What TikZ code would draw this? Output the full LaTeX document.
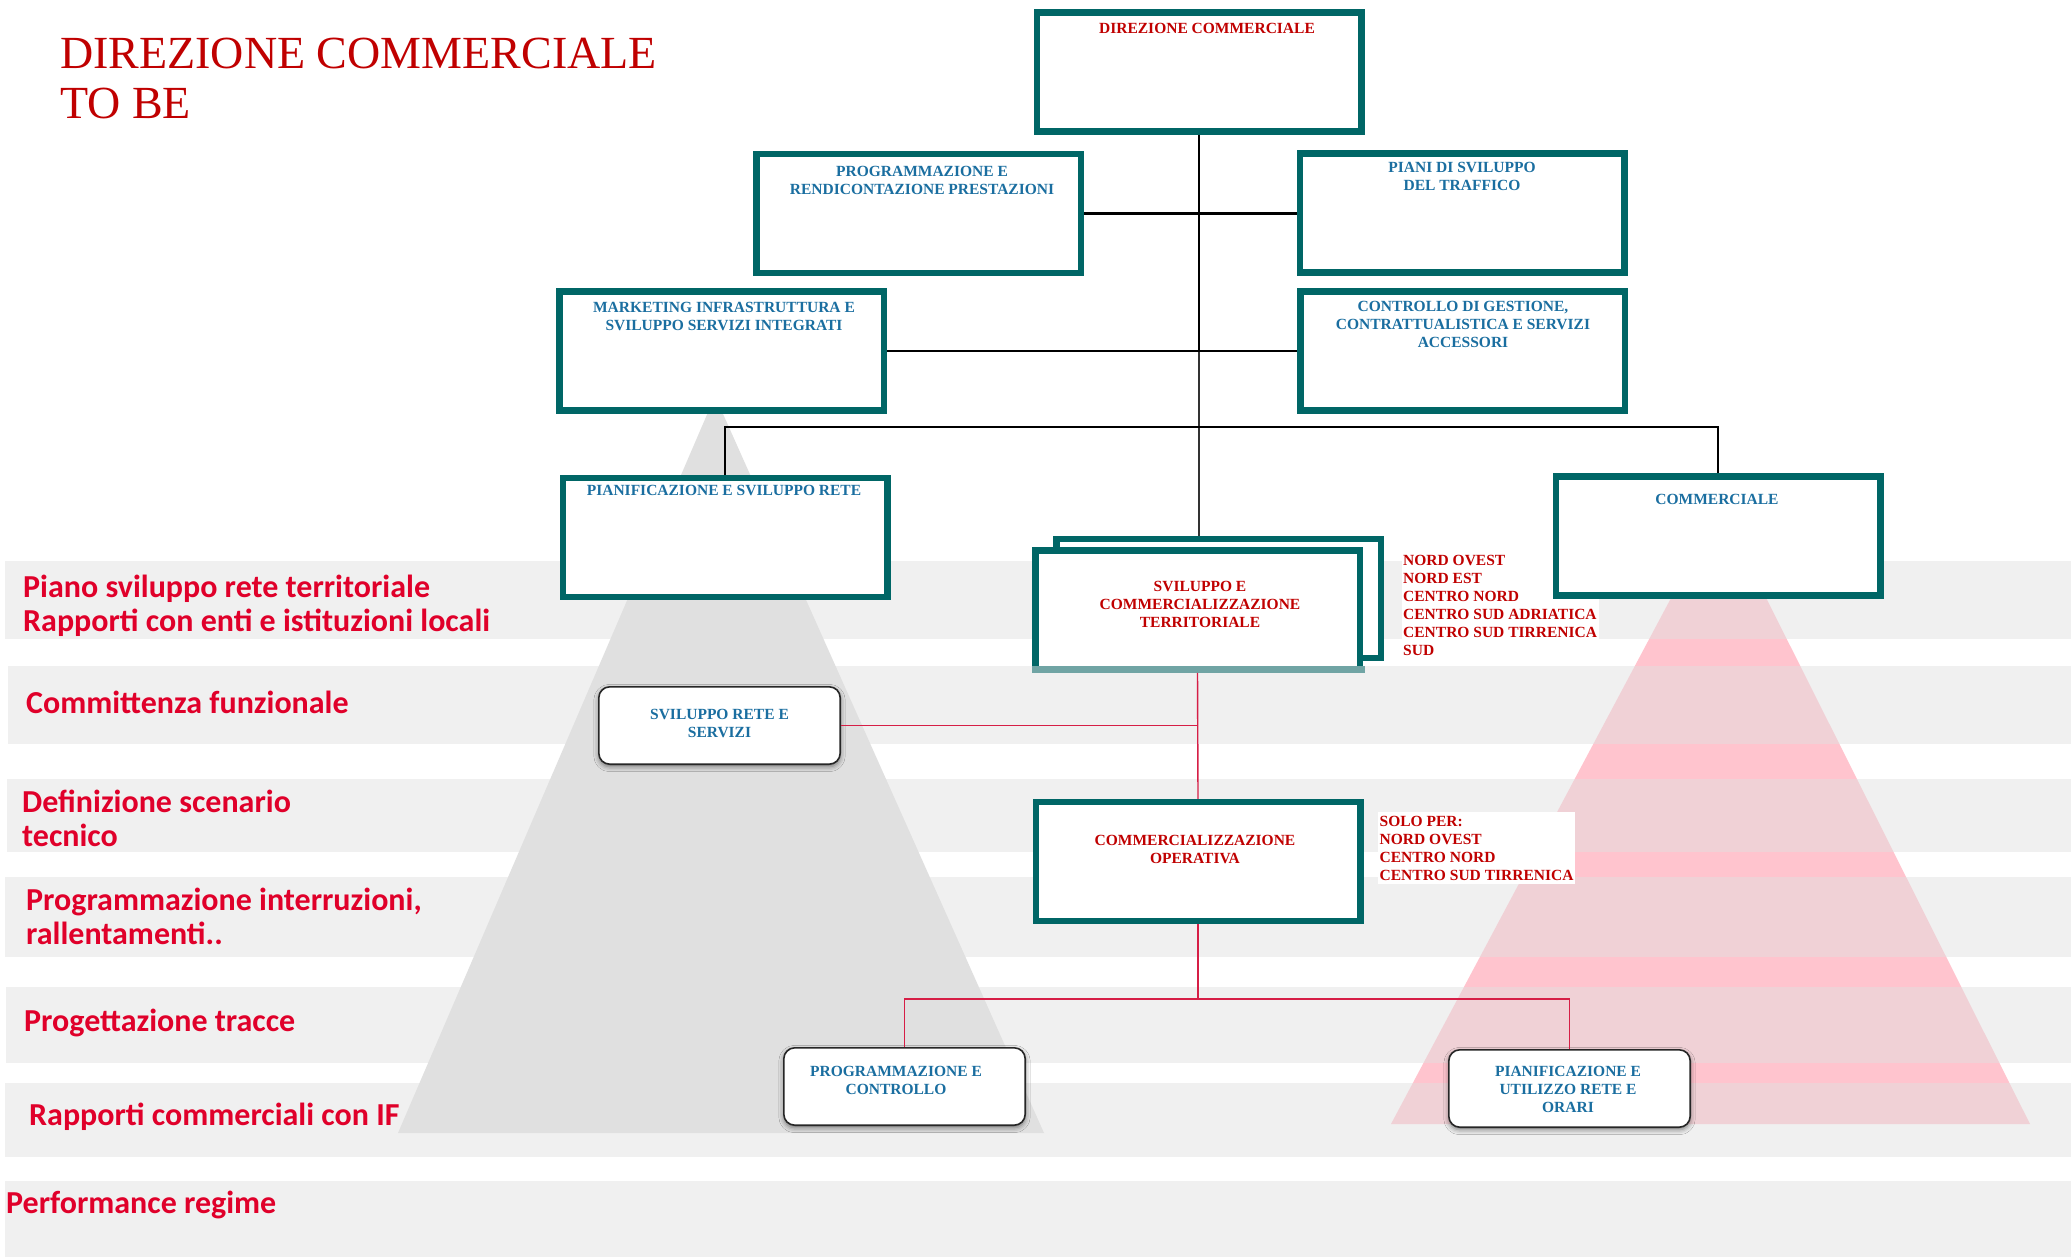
\documentclass[tikz,border=0pt]{standalone}
\usepackage{fontspec}
\setmainfont{Liberation Serif}
\newfontfamily\labelfont{Carlito}
\usetikzlibrary{shadows.blur}
\definecolor{tealbox}{RGB}{0,102,102}
\definecolor{teallight}{RGB}{112,164,164}
\definecolor{boxred}{RGB}{192,0,0}
\definecolor{boxblue}{RGB}{26,110,160}
\definecolor{labelred}{RGB}{224,0,42}
\definecolor{linkred}{RGB}{214,30,70}
\definecolor{bandgrey}{RGB}{224,224,224}
\definecolor{pyrpink}{RGB}{255,196,206}
\begin{document}
\begin{tikzpicture}[x=1pt,y=1pt,
  unitbox/.style={draw=tealbox,line width=6.5pt,fill=white,minimum width=324.5pt,minimum height=119pt},
  softbox/.style={draw=black!85,line width=1.6pt,rounded corners=11pt,fill=white,minimum width=241.4pt,minimum height=77.4pt,
    blur shadow={shadow blur radius=5pt,shadow xshift=0pt,shadow yshift=-2.5pt,shadow opacity=50}},
  boxtext/.style={font=\bfseries\fontsize{15.5}{18}\selectfont,align=center},
  regtext/.style={boxtext,align=left,text=boxred,fill=white,inner xsep=1.5pt,inner ysep=4pt,anchor=west},
  sidelabel/.style={font=\labelfont\bfseries\fontsize{32}{34}\selectfont,text=labelred,align=left,anchor=base west},
  trunk/.style={black,line width=2.6pt},
  twig/.style={black!80,line width=1.2pt},
  redlink/.style={linkred,line width=1.4pt}]
\tikzstyle{every node}+=[inner sep=0pt]
\useasboundingbox (0,0) rectangle (2071,-1257);
\fill [white] (0,0) rectangle (2071,-1257);
\fill [bandgrey] (715,-396) -- (1044,-1133) -- (398,-1133) -- cycle;
\fill [pyrpink] (1720,-506) -- (2030,-1124) -- (1391,-1124) -- cycle;
\foreach \top/\bot/\lft in {561/639/5,666/744/8,779/852/7,877/957/5,987/1063/6,1083/1157/5,1181/1257/5}
  \fill [bandgrey,fill opacity=0.48] (\lft,-\top) rectangle (2071,-\bot);
\node [font=\fontsize{46}{50}\selectfont,text=boxred,align=left,anchor=west] (title) at (60,-78.5) {DIREZIONE COMMERCIALE\\TO BE};
\node [sidelabel] (lab1) at (23,-631) {Piano sviluppo rete territoriale\\Rapporti con enti e istituzioni locali};
\node [sidelabel] (lab2) at (26,-713) {Committenza funzionale};
\node [sidelabel] (lab3) at (22,-846) {Definizione scenario\\tecnico};
\node [sidelabel] (lab4) at (26,-944) {Programmazione interruzioni,\\rallentamenti..};
\node [sidelabel] (lab5) at (24,-1031) {Progettazione tracce};
\node [sidelabel] (lab6) at (29,-1125) {Rapporti commerciali con IF};
\node [sidelabel] (lab7) at (6,-1213) {Performance regime};
\node [regtext] (regs) at (1401.5,-605) {NORD OVEST\\NORD EST\\CENTRO NORD\\CENTRO SUD ADRIATICA\\CENTRO SUD TIRRENICA\\SUD};
\node [unitbox] (dir) at (1199,-72) {};
\node [unitbox] (prog) at (918.5,-213.5) {};
\node [unitbox] (piani) at (1462,-213) {};
\node [unitbox] (mkt) at (721.5,-351) {};
\node [unitbox] (ctrl) at (1462.5,-351) {};
\node [unitbox] (pian) at (725,-537.5) {};
\node [unitbox] (comm) at (1718,-536) {};
\node [unitbox] (svb) at (1218.5,-598.5) {};
\node [unitbox] (svf) at (1197.5,-610) {};
\fill [teallight] (svf.south west) rectangle ++(333,6.5);
\node [unitbox] (oper) at (1198,-861.5) {};
\node [softbox] (svrs) at (719.5,-725.5) {};
\node [softbox] (pc) at (904.5,-1086.5) {};
\node [softbox] (puro) at (1569.5,-1088.5) {};
\draw [trunk] (dir.south) -- (dir.south |- mkt.east);
\draw [twig] (dir.south |- mkt.east) -- (dir.south |- svb.north);
\draw [trunk] (prog.east) -- (prog.east -| piani.west);
\draw [trunk] (mkt.east) -- (ctrl.west);
\coordinate (hub) at (1199,-427);
\draw [trunk] (pian.north) |- (hub) -| (comm.north);
\draw [redlink] (svf.south) -- (oper.north);
\draw [redlink] (svrs.east) -- (svrs.east -| svf.south);
\coordinate (fork) at (1198,-999);
\draw [redlink] (oper.south) -- (fork);
\draw [redlink] (pc.north) |- (fork) -| (puro.north);
\node [boxtext,text=boxred] (dir-t) at (1207,-28) {DIREZIONE COMMERCIALE};
\node [boxtext,text=boxblue] (prog-t) at (922,-180) {PROGRAMMAZIONE E\\RENDICONTAZIONE PRESTAZIONI};
\node [boxtext,text=boxblue] (piani-t) at (1462,-176.5) {PIANI DI SVILUPPO\\DEL TRAFFICO};
\node [boxtext,text=boxblue] (mkt-t) at (724,-316) {MARKETING INFRASTRUTTURA E\\SVILUPPO SERVIZI INTEGRATI};
\node [boxtext,text=boxblue] (ctrl-t) at (1463,-324) {CONTROLLO DI GESTIONE,\\CONTRATTUALISTICA E SERVIZI\\ACCESSORI};
\node [boxtext,text=boxblue] (pian-t) at (724,-490) {PIANIFICAZIONE E SVILUPPO RETE};
\node [boxtext,text=boxblue] (comm-t) at (1717,-499) {COMMERCIALE};
\node [boxtext,text=boxred] (svf-t) at (1200,-604.5) {SVILUPPO E\\COMMERCIALIZZAZIONE\\TERRITORIALE};
\node [boxtext,text=boxred] (oper-t) at (1195,-849) {COMMERCIALIZZAZIONE\\OPERATIVA};
\node [boxtext,text=boxblue] (svrs-t) at (719.5,-723.5) {SVILUPPO RETE E\\SERVIZI};
\node [boxtext,text=boxblue] (pc-t) at (896,-1080) {PROGRAMMAZIONE E\\CONTROLLO};
\node [boxtext,text=boxblue] (puro-t) at (1568,-1089) {PIANIFICAZIONE E\\UTILIZZO RETE E\\ORARI};
\node [regtext] (solo) at (1378,-848) {SOLO PER:\\NORD OVEST\\CENTRO NORD\\CENTRO SUD TIRRENICA};
\end{tikzpicture}
\end{document}
